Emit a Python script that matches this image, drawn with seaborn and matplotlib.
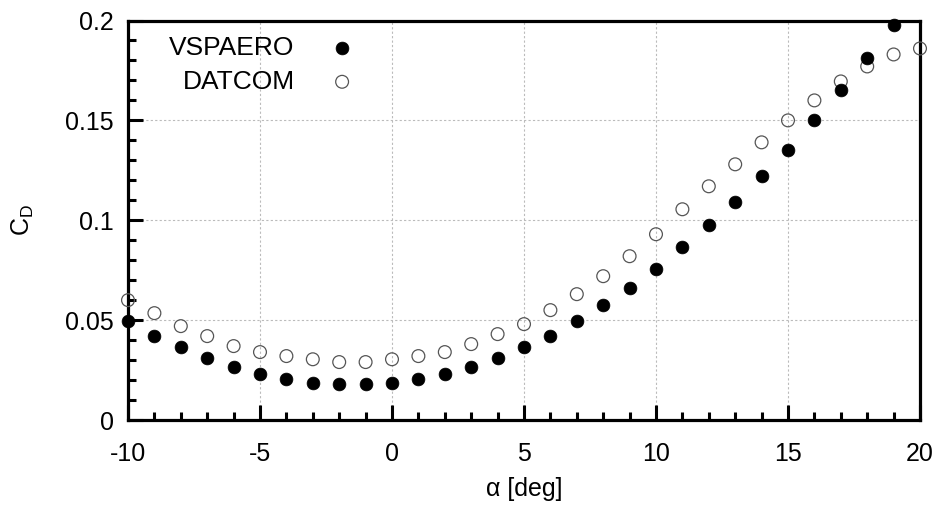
import matplotlib
matplotlib.use("Agg")
import matplotlib.pyplot as plt
from matplotlib.ticker import MultipleLocator
import seaborn as sns
import pandas as pd

alpha_vsp = list(range(-10, 20))
cd_vsp = [0.0498, 0.0423, 0.0364, 0.0310, 0.0267, 0.0230, 0.0204, 0.0184, 0.0179, 0.0179,
          0.0184, 0.0204, 0.0230, 0.0267, 0.0310, 0.0364, 0.0423, 0.0496, 0.0575, 0.0660,
          0.0757, 0.0868, 0.0975, 0.1090, 0.1220, 0.1353, 0.1500, 0.1650, 0.1810, 0.1977]

alpha_dat = list(range(-10, 21))
cd_dat = [0.0600, 0.0535, 0.0470, 0.0420, 0.0370, 0.0340, 0.0320, 0.0304, 0.0290, 0.0290,
          0.0304, 0.0320, 0.0340, 0.0380, 0.0430, 0.0480, 0.0550, 0.0630, 0.0720, 0.0820,
          0.0930, 0.1055, 0.1170, 0.1280, 0.1390, 0.1500, 0.1600, 0.1695, 0.1770, 0.1830,
          0.1860]

xticks = [-10, -5, 0, 5, 10, 15, 20]
yticks = [0, 0.05, 0.1, 0.15, 0.2]
ytick_labels = ["0", "0.05", "0.1", "0.15", "0.2"]

sns.set_theme(style="white")
plt.rcParams["font.family"] = ["Liberation Sans", "DejaVu Sans"]
plt.rcParams["mathtext.default"] = "regular"
plt.rcParams["text.color"] = "black"

df_vsp = pd.DataFrame({"alpha": alpha_vsp, "cd": cd_vsp})
df_dat = pd.DataFrame({"alpha": alpha_dat, "cd": cd_dat})

fig = plt.figure(figsize=(9.44, 5.09), dpi=100)
ax = fig.add_axes([128 / 944, 1 - 420 / 509, (920 - 128) / 944, (420 - 20.5) / 509])

sns.scatterplot(data=df_dat, x="alpha", y="cd", ax=ax, s=85, facecolor="none",
                edgecolor="#555555", linewidth=0.9, marker="o", clip_on=False,
                zorder=3, label="DATCOM")
sns.scatterplot(data=df_vsp, x="alpha", y="cd", ax=ax, s=85, color="black",
                edgecolor="black", linewidth=0.5, marker="o", clip_on=False,
                zorder=4, label="VSPAERO")

ax.set_xlim(-10, 20)
ax.set_ylim(0, 0.2)
ax.set_xticks(xticks)
ax.set_xticklabels([str(t) for t in xticks])
ax.set_yticks(yticks)
ax.set_yticklabels(ytick_labels)
ax.xaxis.set_minor_locator(MultipleLocator(1))
ax.yaxis.set_minor_locator(MultipleLocator(0.01))

ax.tick_params(axis="both", which="major", direction="in", length=10.5, width=2.2,
               labelsize=18, color="black", labelcolor="black",
               top=False, right=False, bottom=True, left=True)
ax.tick_params(axis="x", which="major", pad=16)
ax.tick_params(axis="y", which="major", pad=10)
ax.tick_params(axis="both", which="minor", direction="in", length=5.5, width=2.2,
               color="black", top=False, right=False, bottom=True, left=True)

for sp in ax.spines.values():
    sp.set_linewidth(2.3)
    sp.set_color("black")
    sp.set_zorder(2)

ax.grid(True, which="major", color="#bbbbbb", linestyle=(0, (2, 2)), linewidth=0.8)
ax.set_axisbelow(True)

ax.set_xlabel("α [deg]", fontsize=18, labelpad=8, color="black")
ax.set_ylabel("C$_D$", fontsize=18, labelpad=21, color="black")

handles, labels = ax.get_legend_handles_labels()
order = [labels.index("VSPAERO"), labels.index("DATCOM")]
leg = ax.legend([handles[i] for i in order], [labels[i] for i in order],
                loc="upper right", bbox_to_anchor=(0.287, 0.962), frameon=False,
                markerfirst=False, fontsize=19, handlelength=1.0, handletextpad=1.3,
                labelspacing=0.38, borderpad=0, borderaxespad=0)
for t in leg.get_texts():
    t.set_color("black")

fig.savefig("out.png", dpi=100)
